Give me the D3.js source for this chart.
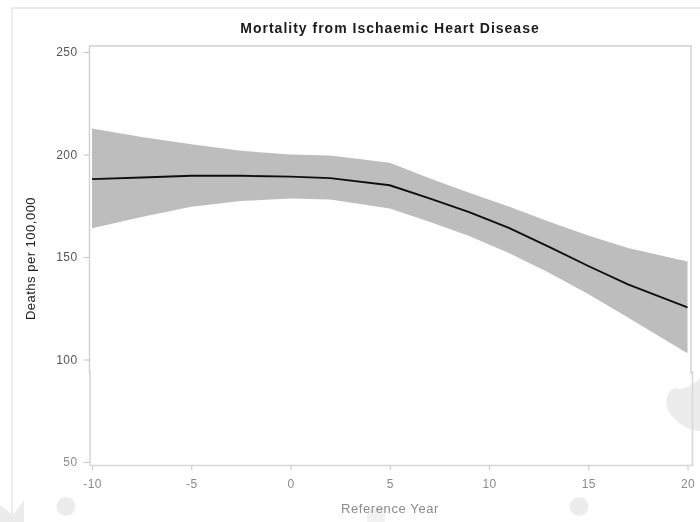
<!DOCTYPE html>
<html><head><meta charset="utf-8">
<script src="https://cdnjs.cloudflare.com/ajax/libs/d3/7.8.5/d3.min.js"></script>
<style>html,body{margin:0;padding:0;background:#fff}svg{display:block}text{font-family:"Liberation Sans",sans-serif}</style>
</head><body><svg id="c" width="700" height="522"></svg>
<script>
const chartTitle = "Mortality from Ischaemic Heart Disease";
const xTitle = "Reference Year";
const yTitle = "Deaths per 100,000";
const xTicks = [-10,-5,0,5,10,15,20];
const yTicks = [50,100,150,200,250];
const years = [-10,-7.5,-5,-2.5,0,2,5,7,9,11,13,15,17,20];
const upper = [212.7,208.5,205,201.8,200,199.5,196,188.4,181.4,174.6,167.3,160.5,154.4,147.8];
const mean  = [188,188.8,189.6,189.6,189.2,188.5,185,178.6,171.9,164.2,155.1,145.6,136.6,125.4];
const lower = [164,169.5,174.5,177.3,178.5,178,173.6,167.2,160.3,151.9,142.4,131.9,120.5,103];

const svg = d3.select("#c");
const defs = svg.append("defs");
defs.append("filter").attr("id","soft").append("feGaussianBlur").attr("stdDeviation",0.45);
const g = svg.append("g").attr("filter","url(#soft)");
const x = d3.scaleLinear().domain([-10,20]).range([92,687.5]);
const y = d3.scaleLinear().domain([50,250]).range([462,52]);

// page frame
g.append("path").attr("d","M12,522V8H700").attr("fill","none").attr("stroke","#e6e6e6").attr("stroke-width",1.5);
// faint watermark shapes
const wm = "#ececec";
g.append("circle").attr("cx",66).attr("cy",506.5).attr("r",9.5).attr("fill",wm);
g.append("circle").attr("cx",579).attr("cy",506.5).attr("r",9.5).attr("fill",wm);
g.append("path").attr("d","M0,505L13,515L24,500V522H0Z").attr("fill",wm);
g.append("path").attr("d","M700,378C690,388 682,390 675,388C664,392 664,408 672,416C680,425 690,431 700,431Z").attr("fill",wm);
g.append("path").attr("d","M367,512L385,506V522H367Z").attr("fill","#f2f2f2");

// plot frame
g.append("path").attr("d","M90,371V465.5H692.5V371").attr("fill","none").attr("stroke","#d8d8d8").attr("stroke-width",1.6);
g.append("path").attr("d","M89.5,374V46H691V374").attr("fill","none").attr("stroke","#cfcfcf").attr("stroke-width",1.4);

// band and line
const area = d3.area().x((d,i)=>x(years[i])).y0((d,i)=>y(lower[i])).y1((d,i)=>y(upper[i]));
g.append("path").attr("d",area(years)).attr("fill","#bdbdbd");
const line = d3.line().x((d,i)=>x(years[i])).y((d,i)=>y(mean[i]));
g.append("path").attr("d",line(years)).attr("fill","none").attr("stroke","#111").attr("stroke-width",1.9);

// y axis
const yAx = g.append("g").attr("transform","translate(89.5,0)").call(d3.axisLeft(y).tickValues(yTicks).tickSize(6).tickPadding(6));
yAx.select(".domain").remove();
yAx.selectAll("line").attr("stroke","#c4c4c4");
yAx.selectAll("text").attr("font-size",12).attr("letter-spacing",0.4).attr("fill",d=>d>=100?"#555":"#8a8a8a");

// x axis
const xAx = g.append("g").attr("transform","translate(0,465.5)").call(d3.axisBottom(x).tickValues(xTicks).tickFormat(d=>String(d)).tickSize(5).tickPadding(9));
xAx.select(".domain").remove();
xAx.selectAll("line").attr("stroke","#c8c8c8");
xAx.selectAll("text").attr("font-size",12).attr("fill","#8a8a8a").attr("letter-spacing",0.4);

g.append("text").attr("x",390).attr("y",33).attr("text-anchor","middle").attr("font-size",14).attr("font-weight","bold").attr("letter-spacing",1).attr("fill","#1a1a1a").text(chartTitle);
g.append("text").attr("x",390).attr("y",512.5).attr("text-anchor","middle").attr("font-size",13).attr("fill","#8a8a8a").attr("letter-spacing",0.6).text(xTitle);
g.append("text").attr("transform","translate(34.5,258.5) rotate(-90)").attr("text-anchor","middle").attr("font-size",13).attr("fill","#222").attr("letter-spacing",0.5).text(yTitle);
</script></body></html>
